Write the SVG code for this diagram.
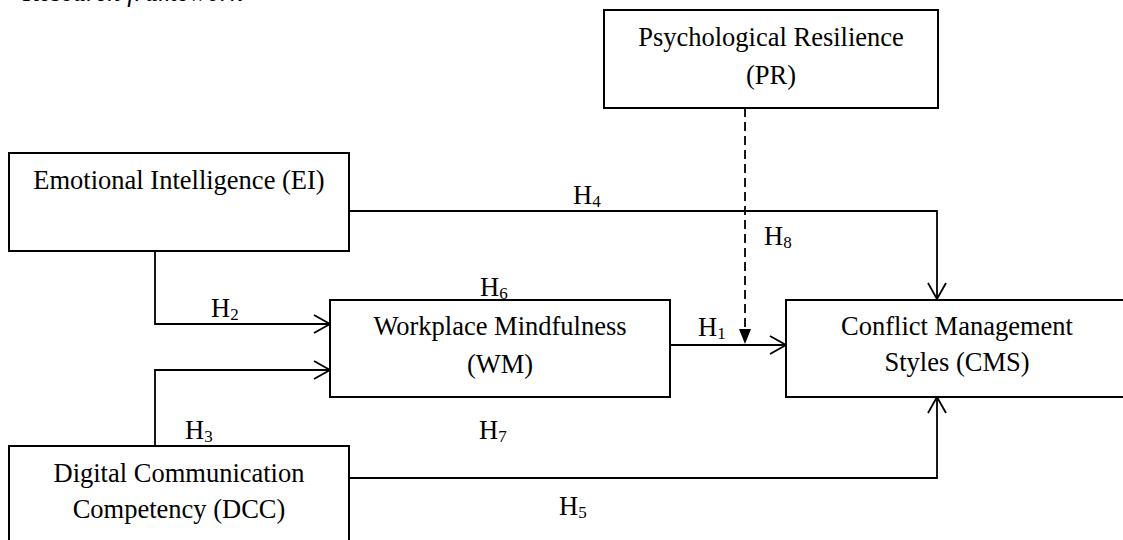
<svg xmlns="http://www.w3.org/2000/svg" width="1123" height="540" viewBox="0 0 1123 540">
  <style>
    .box { fill: #fff; stroke: #000; stroke-width: 2; }
    .t { font-family: "Liberation Serif", "Times New Roman", serif; font-size: 26.5px; fill: #000; text-anchor: middle; }
    .lbl { font-family: "Liberation Serif", "Times New Roman", serif; font-size: 26.5px; fill: #000; }
    .sub { font-size: 17px; }
    .ln { fill: none; stroke: #000; stroke-width: 1.8; }
    .dash { fill: none; stroke: #000; stroke-width: 1.8; stroke-dasharray: 9 5; }
    .cap { font-family: "Liberation Serif", "Times New Roman", serif; font-size: 26.5px; font-style: italic; fill: #000; }
  </style>
  <defs>
    <marker id="open" viewBox="0 0 18 20" refX="17" refY="10" markerWidth="18" markerHeight="20" markerUnits="userSpaceOnUse" orient="auto">
      <path d="M1,1 L17,10 L1,19" fill="none" stroke="#000" stroke-width="1.8"/>
    </marker>
  </defs>
  <rect width="1123" height="540" fill="#fff"/>
  <text class="cap" x="23" y="1">Research framework</text>

  <g id="connectors">
    <polyline class="ln" points="349,211 937,211 937,299" marker-end="url(#open)"/>
    <polyline class="ln" points="155,251 155,324 330,324" marker-end="url(#open)"/>
    <polyline class="ln" points="155,446 155,370 330,370" marker-end="url(#open)"/>
    <line class="ln" x1="670" y1="345" x2="786" y2="345" marker-end="url(#open)"/>
    <polyline class="ln" points="349,478 937,478 937,397" marker-end="url(#open)"/>
    <line class="dash" x1="745" y1="108" x2="745" y2="330"/>
    <polygon points="739,329 751,329 745,344" fill="#000"/>
    <text class="lbl" x="573" y="204">H<tspan class="sub" dy="3">4</tspan></text>
    <text class="lbl" x="764" y="245">H<tspan class="sub" dy="3">8</tspan></text>
    <text class="lbl" x="211" y="317">H<tspan class="sub" dy="3">2</tspan></text>
    <text class="lbl" x="480" y="296">H<tspan class="sub" dy="3">6</tspan></text>
    <text class="lbl" x="698" y="336">H<tspan class="sub" dy="3">1</tspan></text>
    <text class="lbl" x="185" y="439">H<tspan class="sub" dy="3">3</tspan></text>
    <text class="lbl" x="479" y="439">H<tspan class="sub" dy="3">7</tspan></text>
    <text class="lbl" x="559" y="515">H<tspan class="sub" dy="3">5</tspan></text>
  </g>

  <g id="PR">
    <rect class="box" x="604" y="10" width="334" height="98"/>
    <text class="t" x="771" y="46">Psychological Resilience</text>
    <text class="t" x="771" y="84">(PR)</text>
  </g>
  <g id="EI">
    <rect class="box" x="9" y="153" width="340" height="98"/>
    <text class="t" x="179" y="189">Emotional Intelligence (EI)</text>
  </g>
  <g id="WM">
    <rect class="box" x="330" y="300" width="340" height="97"/>
    <text class="t" x="500" y="335">Workplace Mindfulness</text>
    <text class="t" x="500" y="373">(WM)</text>
  </g>
  <g id="CMS">
    <rect class="box" x="786" y="300" width="342" height="97"/>
    <text class="t" x="957" y="335">Conflict Management</text>
    <text class="t" x="957" y="371">Styles (CMS)</text>
  </g>
  <g id="DCC">
    <rect class="box" x="9" y="446" width="340" height="110"/>
    <text class="t" x="179" y="482">Digital Communication</text>
    <text class="t" x="179" y="518">Competency (DCC)</text>
  </g>
</svg>
